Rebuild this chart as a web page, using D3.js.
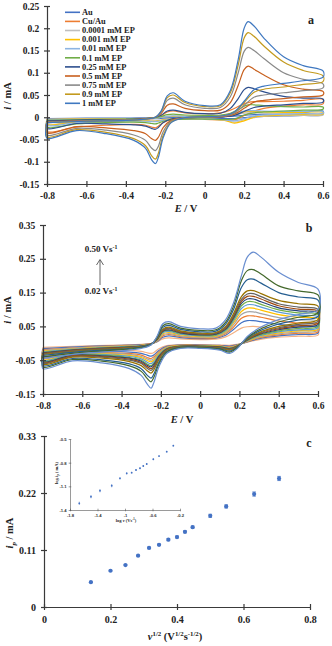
<!DOCTYPE html>
<html lang="en">
<head>
<meta charset="utf-8">
<script src="https://cdn.jsdelivr.net/npm/d3@7"></script>
<style>
    body { margin: 0; background: #fff; }
    svg { display: block; font-family: "Liberation Serif", "Times New Roman", serif; font-weight: bold; }
    .axis path, .axis line { stroke: #3a3a3a; stroke-width: 1.2; }
    .axis text { font-family: "Liberation Serif", serif; font-weight: bold; fill: #222; }
    .inset path, .inset line { stroke: #555; stroke-width: 0.6; }
    .cv { fill: none; stroke-width: 1.2; }
    .lbl { fill: #222; }
</style>
</head>
<body>
<script>

    // ---------- panel a : CV at different EP concentrations ----------
    let potFwdA = [-0.8, -0.6, -0.4, -0.3, -0.25, -0.22, -0.19, -0.16, -0.1, 0, 0.08, 0.13, 0.17, 0.2, 0.22, 0.25, 0.3, 0.4, 0.5, 0.6];
    let potRevA = [0.6, 0.5, 0.4, 0.3, 0.25, 0.2, 0.15, 0.1, 0, -0.1, -0.17, -0.21, -0.235, -0.25, -0.27, -0.3, -0.36, -0.5, -0.65, -0.8];
    let namesA = ['Au', 'Cu/Au', '0.0001 mM EP', '0.001 mM EP', '0.01 mM EP', '0.1 mM EP',
        '0.25 mM EP', '0.5 mM EP', '0.75 mM EP', '0.9 mM EP', '1 mM EP'];
    let fwdA = [
        [-0.003, -0.002, -0.002, -0.001, -0.001, 0.000, 0.000, 0.001, 0.001, 0.001, 0.001, 0.002, 0.003, 0.004, 0.005, 0.006, 0.007, 0.009, 0.011, 0.014],
        [-0.010, -0.007, -0.005, -0.004, -0.002, 0.004, 0.012, 0.014, 0.010, 0.008, 0.010, 0.016, 0.024, 0.030, 0.033, 0.035, 0.035, 0.036, 0.038, 0.040],
        [-0.004, -0.003, -0.003, -0.002, -0.002, 0.000, 0.001, 0.002, 0.002, 0.002, 0.003, 0.004, 0.007, 0.009, 0.010, 0.010, 0.009, 0.008, 0.008, 0.008],
        [-0.005, -0.004, -0.003, -0.003, -0.002, 0.000, 0.002, 0.002, 0.002, 0.002, 0.003, 0.005, 0.009, 0.012, 0.013, 0.013, 0.012, 0.011, 0.011, 0.011],
        [-0.006, -0.005, -0.004, -0.003, -0.002, 0.000, 0.002, 0.003, 0.002, 0.002, 0.003, 0.006, 0.011, 0.014, 0.015, 0.015, 0.014, 0.013, 0.013, 0.013],
        [-0.007, -0.005, -0.004, -0.003, -0.001, 0.002, 0.006, 0.007, 0.005, 0.004, 0.005, 0.009, 0.017, 0.025, 0.028, 0.028, 0.026, 0.024, 0.023, 0.023],
        [-0.008, -0.006, -0.005, -0.003, 0.000, 0.005, 0.014, 0.016, 0.011, 0.008, 0.009, 0.020, 0.042, 0.062, 0.067, 0.064, 0.057, 0.047, 0.043, 0.041],
        [-0.010, -0.008, -0.006, -0.003, 0.000, 0.009, 0.027, 0.030, 0.020, 0.015, 0.016, 0.033, 0.072, 0.107, 0.115, 0.108, 0.095, 0.073, 0.063, 0.058],
        [-0.011, -0.008, -0.006, -0.004, 0.000, 0.012, 0.038, 0.043, 0.028, 0.020, 0.022, 0.046, 0.100, 0.148, 0.157, 0.150, 0.132, 0.100, 0.085, 0.075],
        [-0.012, -0.009, -0.007, -0.004, 0.000, 0.014, 0.044, 0.050, 0.033, 0.024, 0.026, 0.055, 0.118, 0.178, 0.190, 0.182, 0.160, 0.124, 0.105, 0.093],
        [-0.012, -0.009, -0.007, -0.004, 0.000, 0.015, 0.048, 0.055, 0.036, 0.026, 0.028, 0.060, 0.130, 0.200, 0.215, 0.205, 0.178, 0.136, 0.116, 0.104]
    ];
    let revA = [
        [0.006, 0.004, 0.003, 0.002, 0.001, -0.001, -0.003, -0.003, -0.002, -0.002, -0.002, -0.002, -0.003, -0.003, -0.003, -0.003, -0.003, -0.004, -0.005, -0.008],
        [0.030, 0.028, 0.025, 0.020, 0.014, 0.004, -0.006, -0.006, -0.005, -0.004, -0.006, -0.012, -0.020, -0.024, -0.022, -0.018, -0.016, -0.018, -0.022, -0.032],
        [0.005, 0.004, 0.003, 0.002, -0.001, -0.006, -0.011, -0.006, -0.004, -0.003, -0.004, -0.005, -0.007, -0.008, -0.008, -0.007, -0.007, -0.008, -0.010, -0.014],
        [0.007, 0.006, 0.005, 0.003, 0.000, -0.008, -0.013, -0.007, -0.004, -0.004, -0.004, -0.006, -0.008, -0.009, -0.009, -0.008, -0.008, -0.009, -0.011, -0.016],
        [0.009, 0.008, 0.007, 0.005, 0.003, -0.003, -0.008, -0.006, -0.004, -0.004, -0.005, -0.007, -0.009, -0.010, -0.010, -0.009, -0.009, -0.010, -0.012, -0.018],
        [0.018, 0.016, 0.014, 0.012, 0.010, 0.005, -0.004, -0.005, -0.004, -0.004, -0.006, -0.009, -0.013, -0.015, -0.014, -0.012, -0.011, -0.012, -0.015, -0.022],
        [0.034, 0.031, 0.028, 0.025, 0.022, 0.013, 0.004, 0.001, 0.000, -0.001, -0.004, -0.012, -0.023, -0.027, -0.025, -0.020, -0.017, -0.015, -0.014, -0.025],
        [0.050, 0.046, 0.042, 0.038, 0.034, 0.020, 0.007, 0.002, 0.000, -0.001, -0.007, -0.023, -0.045, -0.052, -0.048, -0.037, -0.030, -0.024, -0.021, -0.035],
        [0.066, 0.060, 0.055, 0.050, 0.045, 0.027, 0.009, 0.003, 0.000, -0.001, -0.009, -0.032, -0.065, -0.075, -0.069, -0.052, -0.040, -0.029, -0.025, -0.040],
        [0.080, 0.074, 0.068, 0.063, 0.056, 0.033, 0.011, 0.004, 0.001, -0.001, -0.011, -0.040, -0.081, -0.094, -0.086, -0.064, -0.048, -0.034, -0.028, -0.044],
        [0.090, 0.082, 0.076, 0.070, 0.062, 0.036, 0.012, 0.004, 0.001, -0.001, -0.012, -0.045, -0.090, -0.104, -0.095, -0.070, -0.052, -0.037, -0.030, -0.047]
    ];
    let colorsA = ['#4472C4', '#ED7D31', '#BFBFBF', '#FFC000', '#8DB4E2', '#70AD47',
        '#2D4F8E', '#C8601E', '#8A8A8A', '#C39A1E', '#3F78C0'];

    // ---------- panel b : CV at different scan rates ----------
    let potFwdB = [-0.8, -0.6, -0.4, -0.3, -0.25, -0.22, -0.19, -0.16, -0.1, 0, 0.08, 0.13, 0.17, 0.21, 0.24, 0.27, 0.31, 0.4, 0.5, 0.6];
    let potRevB = [0.6, 0.5, 0.4, 0.3, 0.24, 0.19, 0.15, 0.1, 0, -0.1, -0.17, -0.21, -0.235, -0.25, -0.27, -0.3, -0.36, -0.5, -0.65, -0.8];
    let scanRatesB = [0.02, 0.04, 0.06, 0.08, 0.1, 0.12, 0.14, 0.16, 0.18, 0.2, 0.25, 0.3, 0.4, 0.5];
    let fwdB = [
        [-0.012, -0.008, -0.005, -0.003, -0.001, 0.004, 0.013, 0.016, 0.013, 0.011, 0.012, 0.019, 0.031, 0.045, 0.049, 0.050, 0.048, 0.042, 0.039, 0.036],
        [-0.016, -0.010, -0.006, -0.004, -0.001, 0.005, 0.018, 0.022, 0.017, 0.014, 0.015, 0.024, 0.041, 0.061, 0.067, 0.067, 0.064, 0.056, 0.051, 0.048],
        [-0.019, -0.012, -0.007, -0.005, -0.001, 0.006, 0.022, 0.026, 0.020, 0.016, 0.017, 0.028, 0.048, 0.074, 0.081, 0.081, 0.077, 0.066, 0.060, 0.056],
        [-0.021, -0.013, -0.008, -0.006, -0.002, 0.007, 0.025, 0.029, 0.022, 0.018, 0.019, 0.031, 0.055, 0.085, 0.093, 0.093, 0.088, 0.076, 0.069, 0.065],
        [-0.023, -0.015, -0.009, -0.006, -0.002, 0.008, 0.028, 0.032, 0.025, 0.020, 0.021, 0.034, 0.061, 0.094, 0.104, 0.104, 0.098, 0.085, 0.077, 0.072],
        [-0.025, -0.016, -0.010, -0.007, -0.002, 0.009, 0.031, 0.035, 0.027, 0.022, 0.023, 0.037, 0.066, 0.103, 0.114, 0.114, 0.107, 0.092, 0.083, 0.078],
        [-0.027, -0.017, -0.011, -0.008, -0.002, 0.010, 0.034, 0.038, 0.029, 0.024, 0.025, 0.040, 0.071, 0.111, 0.123, 0.123, 0.115, 0.099, 0.090, 0.085],
        [-0.028, -0.018, -0.012, -0.008, -0.002, 0.011, 0.036, 0.040, 0.031, 0.025, 0.027, 0.042, 0.075, 0.118, 0.131, 0.131, 0.123, 0.105, 0.096, 0.090],
        [-0.030, -0.019, -0.013, -0.009, -0.002, 0.012, 0.038, 0.043, 0.033, 0.027, 0.029, 0.045, 0.079, 0.124, 0.139, 0.139, 0.131, 0.111, 0.101, 0.095],
        [-0.031, -0.020, -0.014, -0.009, -0.002, 0.013, 0.040, 0.045, 0.035, 0.028, 0.030, 0.047, 0.083, 0.130, 0.146, 0.147, 0.138, 0.117, 0.107, 0.100],
        [-0.033, -0.022, -0.015, -0.010, -0.003, 0.014, 0.042, 0.048, 0.037, 0.030, 0.032, 0.050, 0.088, 0.138, 0.155, 0.156, 0.147, 0.127, 0.117, 0.110],
        [-0.036, -0.024, -0.017, -0.011, -0.003, 0.016, 0.047, 0.053, 0.041, 0.034, 0.036, 0.057, 0.100, 0.165, 0.188, 0.190, 0.178, 0.150, 0.137, 0.128],
        [-0.040, -0.027, -0.019, -0.013, -0.004, 0.018, 0.052, 0.058, 0.045, 0.038, 0.040, 0.063, 0.110, 0.185, 0.215, 0.218, 0.205, 0.170, 0.155, 0.143],
        [-0.045, -0.030, -0.022, -0.015, -0.005, 0.020, 0.058, 0.064, 0.050, 0.043, 0.045, 0.070, 0.120, 0.200, 0.255, 0.270, 0.255, 0.210, 0.180, 0.160]
    ];
    let revB = [
        [0.024, 0.021, 0.018, 0.011, 0.003, -0.003, -0.006, -0.005, -0.004, -0.004, -0.007, -0.016, -0.027, -0.030, -0.028, -0.024, -0.021, -0.020, -0.021, -0.036],
        [0.030, 0.026, 0.022, 0.014, 0.004, -0.004, -0.008, -0.006, -0.005, -0.005, -0.009, -0.021, -0.034, -0.038, -0.035, -0.030, -0.026, -0.024, -0.024, -0.040],
        [0.034, 0.030, 0.025, 0.016, 0.005, -0.005, -0.010, -0.007, -0.006, -0.006, -0.011, -0.025, -0.040, -0.045, -0.042, -0.035, -0.030, -0.027, -0.026, -0.043],
        [0.038, 0.033, 0.028, 0.018, 0.006, -0.006, -0.012, -0.008, -0.007, -0.007, -0.012, -0.028, -0.045, -0.050, -0.046, -0.039, -0.033, -0.029, -0.028, -0.045],
        [0.042, 0.037, 0.031, 0.020, 0.007, -0.006, -0.013, -0.009, -0.007, -0.007, -0.013, -0.031, -0.049, -0.055, -0.051, -0.042, -0.036, -0.031, -0.030, -0.048],
        [0.046, 0.040, 0.034, 0.022, 0.008, -0.007, -0.014, -0.010, -0.008, -0.008, -0.015, -0.034, -0.054, -0.060, -0.056, -0.046, -0.039, -0.033, -0.032, -0.050],
        [0.050, 0.044, 0.037, 0.024, 0.009, -0.007, -0.015, -0.010, -0.008, -0.008, -0.016, -0.037, -0.059, -0.066, -0.061, -0.050, -0.042, -0.035, -0.034, -0.053],
        [0.055, 0.048, 0.040, 0.026, 0.010, -0.008, -0.016, -0.011, -0.009, -0.009, -0.017, -0.039, -0.062, -0.070, -0.065, -0.053, -0.044, -0.037, -0.035, -0.055],
        [0.060, 0.052, 0.043, 0.028, 0.011, -0.008, -0.017, -0.012, -0.009, -0.009, -0.018, -0.042, -0.067, -0.075, -0.069, -0.057, -0.047, -0.039, -0.037, -0.057],
        [0.065, 0.056, 0.046, 0.030, 0.012, -0.009, -0.018, -0.013, -0.010, -0.010, -0.019, -0.045, -0.071, -0.080, -0.074, -0.060, -0.050, -0.041, -0.039, -0.059],
        [0.070, 0.060, 0.050, 0.032, 0.013, -0.010, -0.020, -0.014, -0.011, -0.011, -0.021, -0.049, -0.078, -0.088, -0.081, -0.066, -0.054, -0.044, -0.041, -0.062],
        [0.080, 0.069, 0.057, 0.036, 0.015, -0.011, -0.023, -0.016, -0.012, -0.012, -0.024, -0.056, -0.090, -0.103, -0.094, -0.075, -0.061, -0.049, -0.045, -0.066],
        [0.090, 0.077, 0.063, 0.040, 0.017, -0.013, -0.026, -0.018, -0.013, -0.013, -0.027, -0.062, -0.100, -0.114, -0.104, -0.083, -0.067, -0.053, -0.048, -0.070],
        [0.100, 0.085, 0.070, 0.045, 0.020, -0.015, -0.030, -0.020, -0.015, -0.015, -0.030, -0.070, -0.115, -0.133, -0.120, -0.095, -0.075, -0.058, -0.052, -0.075]
    ];
    let colorsB = ['#F4B183', '#4472C4', '#ED7D31', '#A5A5A5', '#FFC000', '#5B9BD5', '#70AD47',
        '#264478', '#9E480E', '#636363', '#997300', '#255E91', '#43682B', '#698ED0'];

    // ---------- panel c : peak current vs square root of scan rate ----------
    let sqrtRateC = [0.141, 0.200, 0.245, 0.283, 0.316, 0.346, 0.374, 0.400, 0.424, 0.447, 0.500, 0.548, 0.632, 0.707];
    let ipC = [0.048, 0.070, 0.081, 0.099, 0.114, 0.120, 0.130, 0.135, 0.145, 0.154, 0.176, 0.194, 0.218, 0.248];
    let ipErrC = [0.001, 0.001, 0.001, 0.001, 0.0015, 0.0015, 0.002, 0.002, 0.002, 0.002, 0.003, 0.003, 0.004, 0.004];
    // inset: log ip vs log v
    let logV = [-1.665, -1.495, -1.364, -1.193, -1.073, -0.975, -0.903, -0.840, -0.782, -0.734, -0.684, -0.588, -0.505, -0.393, -0.297];
    let logIp = [-1.315, -1.231, -1.155, -1.092, -0.998, -0.935, -0.927, -0.893, -0.871, -0.842, -0.817, -0.757, -0.716, -0.661, -0.585];
    let logIpErr = [0.02, 0.02, 0.02, 0.02, 0.015, 0.015, 0.01, 0.01, 0.01, 0.01, 0.01, 0.01, 0.01, 0.01, 0.01];

    let ticksA_x = [-0.8, -0.6, -0.4, -0.2, 0, 0.2, 0.4, 0.6];
    let ticksA_y = [-0.15, -0.1, -0.05, 0, 0.05, 0.1, 0.15, 0.2, 0.25];
    let ticksB_y = [-0.15, -0.05, 0.05, 0.15, 0.25, 0.35];
    let ticksC_x = [0, 0.2, 0.4, 0.6, 0.8];
    let ticksC_y = [0, 0.11, 0.22, 0.33];
    let ticksIn_x = [-1.8, -1.4, -1, -0.6, -0.2];
    let ticksIn_y = [-1.4, -1.1, -0.8, -0.5];

    let svg = d3.select('body').append('svg')
        .attr('width', 332).attr('height', 646);

    let fmt = function (d) { return String(+d.toFixed(2)); };

    // y axis with ticks crossing the line
    function leftAxis(scale, x, values, size, tick, cls) {
        let g = svg.append('g').attr('class', cls || 'axis')
            .attr('transform', 'translate(' + x + ',0)')
            .call(d3.axisLeft(scale).tickValues(values).tickFormat(fmt)
                .tickSize(tick).tickSizeOuter(0).tickPadding(size * 0.5));
        g.selectAll('.tick line').attr('x1', tick).attr('x2', -tick);
        g.selectAll('text').style('font-size', size + 'px');
        return g;
    }

    function bottomAxis(scale, y, values, size, tick, cls) {
        let g = svg.append('g').attr('class', cls || 'axis')
            .attr('transform', 'translate(0,' + y + ')')
            .call(d3.axisBottom(scale).tickValues(values).tickFormat(fmt)
                .tickSize(tick).tickSizeOuter(0).tickPadding(size * 0.6));
        g.selectAll('.tick line').attr('y1', -tick).attr('y2', tick);
        g.selectAll('text').style('font-size', size + 'px');
        return g;
    }

    // text made of parts: {t, it, sup, sub}
    function richText(x, y, parts, size, rotate, anchor) {
        let t = svg.append('text').attr('class', 'lbl')
            .attr('text-anchor', anchor || 'middle')
            .style('font-size', size + 'px');
        if (rotate) {
            t.attr('transform', 'translate(' + x + ',' + y + ') rotate(-90)');
        } else {
            t.attr('x', x).attr('y', y);
        }
        let shift = 0;
        parts.forEach(function (p) {
            let s = t.append('tspan').text(p.t);
            let want = p.sup ? -size * 0.38 : (p.sub ? size * 0.25 : 0);
            s.attr('dy', want - shift);
            shift = want;
            if (p.sup || p.sub) s.style('font-size', (size * 0.65) + 'px');
            if (p.it) s.style('font-style', 'italic');
        });
        return t;
    }

    function loopPoints(potF, valsF, potR, valsR) {
        let pts = potF.map(function (e, i) { return [e, valsF[i]]; })
            .concat(potR.map(function (e, i) { return [e, valsR[i]]; }));
        pts.push(pts[0]);
        return pts;
    }

    // ---------------- panel a ----------------
    let xA = d3.scaleLinear().domain([-0.8, 0.6]).range([47, 323]);
    let yA = d3.scaleLinear().domain([-0.15, 0.25]).range([184, 6]);
    let lineA = d3.line()
        .x(function (d) { return xA(d[0]); })
        .y(function (d) { return yA(d[1]); })
        .curve(d3.curveCatmullRom.alpha(0.5));

    svg.append('g').selectAll('path')
        .data(namesA)
        .enter().append('path')
        .attr('class', 'cv')
        .attr('stroke', function (d, i) { return colorsA[i]; })
        .attr('d', function (d, i) { return lineA(loopPoints(potFwdA, fwdA[i], potRevA, revA[i])); });

    leftAxis(yA, 47, ticksA_y, 9.5, 3);
    bottomAxis(xA, 184, ticksA_x, 9.5, 3);

    let legA = svg.append('g').selectAll('g')
        .data(namesA)
        .enter().append('g')
        .attr('transform', function (d, i) { return 'translate(65,' + (12.3 + i * 9.1) + ')'; });
    legA.append('line').attr('x1', 0).attr('x2', 15)
        .attr('stroke', function (d, i) { return colorsA[i]; }).attr('stroke-width', 1.6);
    legA.append('text').attr('x', 17).attr('dy', '0.33em')
        .attr('class', 'lbl').style('font-size', '8.4px')
        .text(function (d) { return d; });

    richText(186, 212, [{t: 'E', it: true}, {t: ' / V'}], 10.5);
    richText(11, 96, [{t: 'i', it: true}, {t: ' / mA'}], 10.5, true);
    svg.append('text').attr('class', 'lbl').attr('x', 311).attr('y', 24)
        .attr('text-anchor', 'middle').style('font-size', '12px').text('a');

    // ---------------- panel b ----------------
    let xB = d3.scaleLinear().domain([-0.8, 0.6]).range([43, 318]);
    let yB = d3.scaleLinear().domain([-0.15, 0.35]).range([394, 225]);
    let lineB = d3.line()
        .x(function (d) { return xB(d[0]); })
        .y(function (d) { return yB(d[1]); })
        .curve(d3.curveCatmullRom.alpha(0.5));

    svg.append('g').selectAll('path')
        .data(scanRatesB)
        .enter().append('path')
        .attr('class', 'cv')
        .attr('stroke', function (d, i) { return colorsB[i]; })
        .attr('d', function (d, i) { return lineB(loopPoints(potFwdB, fwdB[i], potRevB, revB[i])); });

    leftAxis(yB, 43, ticksB_y, 9.5, 3);
    bottomAxis(xB, 394, ticksA_x, 9.5, 3);

    richText(182, 423, [{t: 'E', it: true}, {t: ' / V'}], 10.5);
    richText(11, 310, [{t: 'i', it: true}, {t: ' / mA'}], 10.5, true);
    svg.append('text').attr('class', 'lbl').attr('x', 309).attr('y', 232)
        .attr('text-anchor', 'middle').style('font-size', '12px').text('b');

    richText(101, 252, [{t: '0.50 Vs'}, {t: '-1', sup: true}], 9);
    richText(101, 294, [{t: '0.02 Vs'}, {t: '-1', sup: true}], 9);
    svg.append('path').attr('d', 'M100,285 L100,260 M96.5,265 L100,259.5 L103.5,265')
        .attr('fill', 'none').attr('stroke', '#555').attr('stroke-width', 0.9);

    // ---------------- panel c ----------------
    let xC = d3.scaleLinear().domain([0, 0.8]).range([44, 310]);
    let yC = d3.scaleLinear().domain([0, 0.33]).range([607, 436]);

    leftAxis(yC, 44, ticksC_y, 10, 3);
    bottomAxis(xC, 607, ticksC_x, 10, 3);

    let ptsC = svg.append('g').selectAll('g')
        .data(ipC)
        .enter().append('g');
    ptsC.append('path')
        .attr('stroke', '#4472C4').attr('stroke-width', 0.8).attr('fill', 'none')
        .attr('d', function (d, i) {
            let x = xC(sqrtRateC[i]), y1 = yC(d - ipErrC[i]), y2 = yC(d + ipErrC[i]);
            return 'M' + (x - 1.8) + ',' + y1 + 'H' + (x + 1.8) + 'M' + (x - 1.8) + ',' + y2 +
                'H' + (x + 1.8) + 'M' + x + ',' + y1 + 'V' + y2;
        });
    ptsC.append('circle')
        .attr('cx', function (d, i) { return xC(sqrtRateC[i]); })
        .attr('cy', function (d) { return yC(d); })
        .attr('r', 2.1).attr('fill', '#4472C4');

    richText(175, 640, [{t: 'ν', it: true}, {t: '1/2', sup: true}, {t: ' (V'}, {t: '1/2', sup: true},
        {t: 's'}, {t: '-1/2', sup: true}, {t: ')'}], 10.5);
    richText(13, 533, [{t: 'i', it: true}, {t: 'p', it: true, sub: true}, {t: ' / mA'}], 10.5, true);
    svg.append('text').attr('class', 'lbl').attr('x', 309).attr('y', 447)
        .attr('text-anchor', 'middle').style('font-size', '12px').text('c');

    // inset
    let xIn = d3.scaleLinear().domain([-1.8, -0.2]).range([70, 180]);
    let yIn = d3.scaleLinear().domain([-1.4, -0.5]).range([510, 439]);
    leftAxis(yIn, 70, ticksIn_y, 4.2, 1.3, 'inset');
    bottomAxis(xIn, 510, ticksIn_x, 4.2, 1.3, 'inset');
    svg.selectAll('.inset text').style('fill', '#333');

    let ptsIn = svg.append('g').selectAll('g')
        .data(logIp)
        .enter().append('g');
    ptsIn.append('line')
        .attr('x1', function (d, i) { return xIn(logV[i]); })
        .attr('x2', function (d, i) { return xIn(logV[i]); })
        .attr('y1', function (d, i) { return yIn(d - logIpErr[i]); })
        .attr('y2', function (d, i) { return yIn(d + logIpErr[i]); })
        .attr('stroke', '#4472C4').attr('stroke-width', 0.6);
    ptsIn.append('circle')
        .attr('cx', function (d, i) { return xIn(logV[i]); })
        .attr('cy', function (d) { return yIn(d); })
        .attr('r', 0.9).attr('fill', '#4472C4');

    richText(126, 522, [{t: 'log '}, {t: 'v', it: true}, {t: ' (Vs'}, {t: '-1', sup: true}, {t: ')'}], 4.5);
    richText(58, 473, [{t: 'log '}, {t: 'i', it: true}, {t: 'p', sub: true}, {t: ' ( mA)'}], 4.5, true);

</script>
</body>
</html>
